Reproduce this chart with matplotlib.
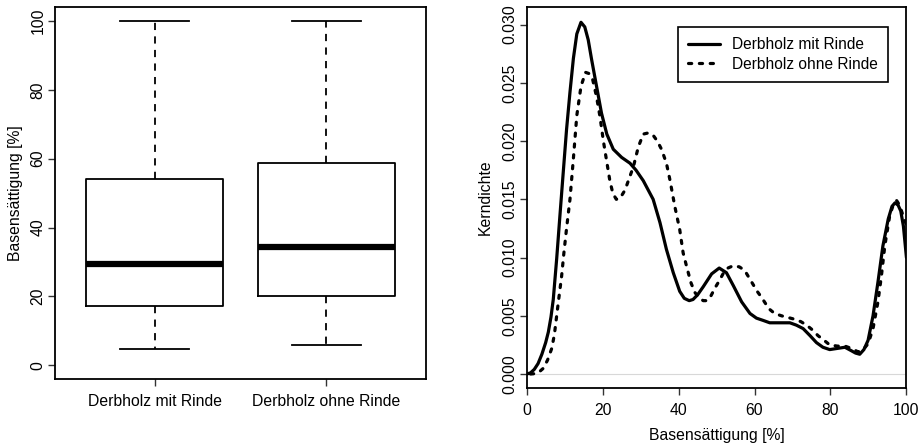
import matplotlib
matplotlib.use("Agg")
import matplotlib.pyplot as plt

plt.rcParams['font.family'] = ['Liberation Sans', 'DejaVu Sans']
plt.rcParams['font.size'] = 11.3

# Boxplot (Basensättigung)
groups = ["Derbholz mit Rinde", "Derbholz ohne Rinde"]
whisker_low = [4.8, 6.0]
q1 = [17.2, 20.1]
median = [29.3, 34.4]
q3 = [54.0, 58.7]
whisker_high = [100.0, 100.0]

# Kerndichte-Kurven
x_mit = [0, 1, 2, 3, 4, 5, 5.7, 6.4, 7, 7.9, 8.8, 9.6, 10.5, 11.4, 12.3, 13.2, 14.3,
         15.3, 16.2, 17.1, 18.4, 19.7, 21.1, 22.8, 25, 27.2, 28.8, 30.7, 33.3, 35.1,
         36.8, 38.6, 40.3, 41.5, 42.8, 43.8, 45, 46.5, 48.7, 50.7, 52.6, 54.4, 56.6,
         58.8, 60.5, 62.3, 64, 66.7, 69.3, 71, 72.8, 74.6, 76.3, 78, 79.8, 81.8, 83.8,
         85.5, 86.6, 87.7, 88.8, 89.9, 91.2, 92.5, 93.8, 95.2, 96.2, 97.0, 97.8, 98.5,
         99.2, 100]
y_mit = [0, 0.0001, 0.0004, 0.0009, 0.0017, 0.0027, 0.0036, 0.0049, 0.0064, 0.0099,
         0.0138, 0.0172, 0.0210, 0.0242, 0.0271, 0.0292, 0.0302, 0.0298, 0.0287,
         0.0270, 0.0247, 0.0224, 0.0206, 0.0193, 0.0186, 0.0181, 0.0175, 0.0166,
         0.0150, 0.0130, 0.0107, 0.0087, 0.0071, 0.0065, 0.0063, 0.0064, 0.0068,
         0.0075, 0.0086, 0.0091, 0.0087, 0.0076, 0.0062, 0.0052, 0.0048, 0.0046,
         0.0044, 0.0044, 0.0044, 0.0042, 0.0039, 0.0033, 0.0027, 0.0023, 0.0021,
         0.0022, 0.0023, 0.0020, 0.0018, 0.0017, 0.0021, 0.0029, 0.0050, 0.0079,
         0.0110, 0.0133, 0.0144, 0.0147, 0.0145, 0.0140, 0.0127, 0.0100]

x_ohne = [1, 2, 3, 4.4, 5.5, 6.6, 7.3, 7.9, 8.5, 9.2, 9.8, 10.5, 11.4, 12.3, 13.2,
          14.3, 15.5, 16.4, 17.3, 18.4, 19.3, 20.2, 21.1, 21.9, 22.7, 23.6, 24.6,
          25.9, 27, 28.1, 29.4, 30.7, 32, 33.3, 34.4, 35.5, 36.8, 37.7, 39, 40.3,
          41.2, 42.3, 43.3, 44.3, 45.5, 46.5, 47.4, 48.5, 49.6, 50.7, 51.7, 53, 54.4,
          56, 57.4, 58.5, 59.6, 60.7, 61.8, 63.8, 65.3, 67.1, 70.6, 72.2, 73.7, 75.2,
          76.7, 78.3, 79.8, 81.8, 83.8, 85.5, 87.3, 88.6, 89.9, 91.2, 92.5, 93.4,
          94.3, 95.6, 96.5, 97.4, 98.2, 98.9, 100]
y_ohne = [0, 0.00003, 0.0001, 0.0005, 0.0012, 0.0022, 0.0034, 0.0050, 0.0066, 0.0084,
          0.0104, 0.0125, 0.0150, 0.0185, 0.0222, 0.0247, 0.0259, 0.0258, 0.0254,
          0.0238, 0.0221, 0.0200, 0.0182, 0.0166, 0.0155, 0.0150, 0.0151, 0.0158,
          0.0168, 0.0178, 0.0195, 0.0206, 0.0207, 0.0205, 0.0200, 0.0193, 0.0181,
          0.0167, 0.0144, 0.0124, 0.0104, 0.0090, 0.0078, 0.0070, 0.0065, 0.0063,
          0.0063, 0.0067, 0.0074, 0.0080, 0.0086, 0.0091, 0.0093, 0.0092, 0.0089,
          0.0083, 0.0077, 0.0071, 0.0066, 0.0056, 0.0052, 0.0050, 0.0047, 0.0045,
          0.0042, 0.0038, 0.0033, 0.0029, 0.0025, 0.0024, 0.0024, 0.0022, 0.0019,
          0.0021, 0.0026, 0.0039, 0.0062, 0.0084, 0.0110, 0.0136, 0.0145, 0.0149,
          0.0145, 0.0138, 0.0128]

fig = plt.figure(figsize=(9.24, 4.46), dpi=100)
ax1 = fig.add_axes([0.0595, 0.150, 0.4015, 0.834])
ax2 = fig.add_axes([0.570, 0.130, 0.411, 0.854])

# linkes Panel
stats = []
for i in range(len(groups)):
    stats.append({"whislo": whisker_low[i], "q1": q1[i], "med": median[i],
                  "q3": q3[i], "whishi": whisker_high[i], "fliers": []})
ax1.bxp(stats, positions=[1, 2], widths=0.8, capwidths=0.4, showfliers=False,
        boxprops=dict(color="black", lw=1.3),
        medianprops=dict(color="black", lw=4.5, solid_capstyle="butt"),
        whiskerprops=dict(color="black", lw=1.3, linestyle=(0, (4, 3.5))),
        capprops=dict(color="black", lw=1.3))
ax1.set_xlim(0.42, 2.58)
ax1.set_ylim(-4, 104)
ax1.set_xticks([1, 2])
ax1.set_xticklabels(groups)
ax1.set_yticks([0, 20, 40, 60, 80, 100])
ax1.set_ylabel("Basensättigung [%]")
ax1.yaxis.set_label_coords(-0.086, 0.5)

# rechtes Panel
ax2.axhline(0, color="#d8d8d8", lw=0.8, zorder=1)
ax2.plot(x_mit, y_mit, color="black", lw=2.3, solid_joinstyle="round",
         solid_capstyle="round", label="Derbholz mit Rinde")
ax2.plot(x_ohne, y_ohne, color="black", lw=2.3, linestyle=(0, (1.0, 2.4)),
         dash_capstyle="round", dash_joinstyle="round", label="Derbholz ohne Rinde")
ax2.set_xlim(0, 100)
ax2.set_ylim(-0.0012, 0.0315)
ax2.set_xticks([0, 20, 40, 60, 80, 100])
ax2.set_yticks([0, 0.005, 0.01, 0.015, 0.02, 0.025, 0.03])
ax2.set_yticklabels(["%.3f" % v for v in ax2.get_yticks()])
ax2.set_xlabel("Basensättigung [%]")
ax2.set_ylabel("Kerndichte")
ax2.xaxis.set_label_coords(0.5, -0.105)
ax2.yaxis.set_label_coords(-0.089, 0.5)
leg = ax2.legend(loc="upper right", bbox_to_anchor=(0.951, 0.9475), borderaxespad=0,
                 fancybox=False, framealpha=1, edgecolor="black", handlelength=2.05,
                 borderpad=0.65, labelspacing=0.3, handletextpad=0.77, fontsize=11.2)
leg.get_frame().set_linewidth(1.2)

for ax in (ax1, ax2):
    for s in ax.spines.values():
        s.set_linewidth(1.3)
    ax.tick_params(direction="out", length=5, width=1.0, color="#333333")
    ax.tick_params(axis="y", pad=1.8)
    ax.tick_params(axis="x", pad=6)
    for lab in ax.get_yticklabels():
        lab.set_rotation(90)
        lab.set_va("center")

fig.savefig("out.png", dpi=100)
